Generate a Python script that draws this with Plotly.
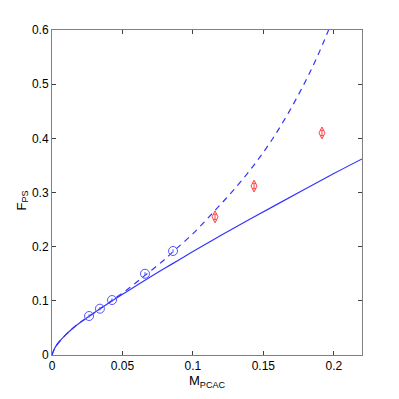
import plotly.graph_objects as go

# lattice points (blue circles) and heavier masses (red diamonds)
m_light = [0.0263, 0.0340, 0.0426, 0.0660, 0.0859]
f_light = [0.0720, 0.0855, 0.1015, 0.1500, 0.1920]
f_light_err = [0.003, 0.003, 0.003, 0.003, 0.003]

m_heavy = [0.1157, 0.1434, 0.1916]
f_heavy = [0.2550, 0.3120, 0.4100]
f_heavy_err = [0.005, 0.005, 0.005]

# fitted curves
fit_x = [0, 0.002, 0.005, 0.01, 0.015, 0.02, 0.03, 0.04, 0.05, 0.06, 0.07,
         0.08, 0.09, 0.10, 0.12, 0.14, 0.16, 0.18, 0.20, 0.22]
fit_solid = [0, 0.013, 0.024, 0.038, 0.050, 0.060, 0.078, 0.0955, 0.112,
             0.1285, 0.1445, 0.160, 0.1755, 0.191, 0.221, 0.250, 0.2785,
             0.307, 0.335, 0.362]

dash_x = [0, 0.002, 0.005, 0.01, 0.015, 0.02, 0.03, 0.04, 0.055, 0.066,
          0.078, 0.086, 0.10, 0.115, 0.13, 0.144, 0.156, 0.168, 0.18, 0.19,
          0.20]
fit_dashed = [0, 0.013, 0.024, 0.038, 0.050, 0.060, 0.078, 0.096, 0.124,
              0.147, 0.172, 0.191, 0.224, 0.265, 0.308, 0.353, 0.397, 0.448,
              0.506, 0.561, 0.624]

x_ticks = [0, 0.05, 0.1, 0.15, 0.2]
x_labels = ["0", "0.05", "0.1", "0.15", "0.2"]
y_ticks = [0, 0.1, 0.2, 0.3, 0.4, 0.5, 0.6]
y_labels = ["0", "0.1", "0.2", "0.3", "0.4", "0.5", "0.6"]

AXIS = dict(
    showgrid=False,
    zeroline=False,
    showline=True,
    linecolor="#808080",
    linewidth=1,
    mirror="ticks",
    ticks="inside",
    ticklen=4,
    tickcolor="#404040",
    tickfont=dict(size=12, color="black"),
    automargin=False,
)

fig = go.Figure()
fig.add_trace(go.Scatter(x=fit_x, y=fit_solid, mode="lines",
                         line=dict(color="#3333ff", width=1.2),
                         line_shape="spline", showlegend=False))
fig.add_trace(go.Scatter(x=dash_x, y=fit_dashed, mode="lines",
                         line=dict(color="#3333ff", width=1.2, dash="6px,5px"),
                         line_shape="spline", showlegend=False))
fig.add_trace(go.Scatter(
    x=m_light, y=f_light, mode="markers",
    error_y=dict(type="data", array=f_light_err, color="#5555ff",
                 thickness=1, width=0),
    marker=dict(symbol="circle-open", size=9, color="#5555ff",
                line=dict(width=1)),
    showlegend=False))
fig.add_trace(go.Scatter(
    x=m_heavy, y=f_heavy, mode="markers",
    error_y=dict(type="data", array=f_heavy_err, color="#ff4040",
                 thickness=1, width=2),
    marker=dict(symbol="diamond-tall-open", size=8.5, color="#ff4040",
                line=dict(width=1)),
    showlegend=False))

# the page body has an 8px default margin, so the figure is 8px smaller
fig.update_layout(
    width=391,
    height=391,
    paper_bgcolor="white",
    plot_bgcolor="white",
    margin=dict(l=44, r=37, t=22, b=44),
    font=dict(family="Liberation Sans, Arial, sans-serif", color="black"),
    xaxis=dict(AXIS, range=[0, 0.22], tickvals=x_ticks, ticktext=x_labels),
    yaxis=dict(AXIS, range=[0, 0.6], tickvals=y_ticks, ticktext=y_labels),
    annotations=[
        dict(text="M<sub>PCAC</sub>", xref="paper", yref="paper", x=0.5, y=0,
             xanchor="center", yanchor="top", yshift=-16, showarrow=False,
             font=dict(size=13)),
        dict(text="F<sub>PS</sub>", xref="paper", yref="paper", x=0, y=0.5,
             xanchor="center", yanchor="middle", xshift=-30, yshift=-8,
             textangle=-90, showarrow=False, font=dict(size=13)),
    ],
)

fig.write_html("out.html")
